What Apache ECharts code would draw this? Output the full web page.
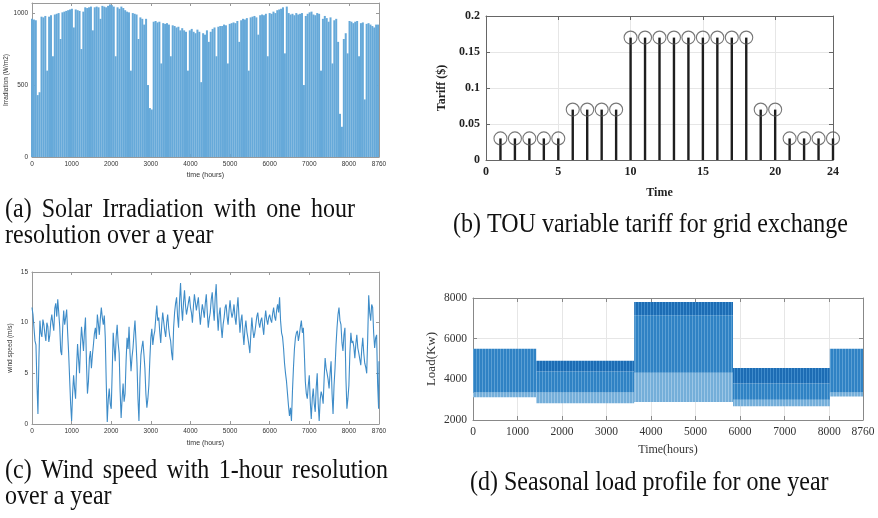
<!DOCTYPE html>
<html>
<head>
<meta charset="utf-8">
<script src="https://cdn.jsdelivr.net/npm/echarts@6.0.0/dist/echarts.min.js"></script>
<style>
html,body{margin:0;padding:0;background:#fff;}
#chart{width:878px;height:518px;}
</style>
</head>
<body>
<div id="chart"></div>
<script>
// ---------- DATA ----------
// (a) Solar irradiation, one value per 48 h (W/m2)
const solarStep = 48;
const solarValues = [
  960, 955, 950, 430, 450, 975, 970, 980, 600, 975,
  985, 700, 990, 995, 1000, 820, 1005, 1010, 1015, 1020,
  1025, 1030, 900, 1025, 1020, 1015, 750, 1010, 1040, 1035,
  1040, 1045, 880, 1040, 1045, 1040, 960, 1050, 1045, 1040,
  1050, 1060, 1055, 1045, 700, 1040, 1030, 1045, 1035, 1020,
  1010, 1005, 600, 1000, 995, 990, 820, 970, 960, 920,
  960, 500, 340, 330, 940, 945, 935, 940, 650, 930,
  925, 930, 920, 700, 915, 910, 900, 905, 880, 895,
  880, 870, 600, 880, 890, 870, 860, 885, 870, 520,
  860, 850, 880, 800, 870, 890, 900, 700, 905, 910,
  910, 920, 915, 650, 925, 930, 935, 930, 945, 800,
  950, 960, 955, 965, 600, 970, 975, 980, 970, 850,
  985, 990, 985, 995, 700, 1000, 995, 1010, 1000, 1020,
  1025, 1030, 1040, 720, 1045, 1000, 990, 995, 985, 1000,
  990, 995, 1000, 500, 980, 995, 1005, 1010, 990, 985,
  1000, 995, 600, 960, 980, 965, 940, 970, 650, 950,
  960, 800, 300, 210, 820, 860, 720, 945, 940, 930,
  940, 945, 700, 930, 935, 400, 925, 930, 920, 910,
  900, 920, 920
];

// (b) TOU tariff per hour ($)
const tariffHours = [1,2,3,4,5,6,7,8,9,10,11,12,13,14,15,16,17,18,19,20,21,22,23,24];
const tariffValues = [0.03,0.03,0.03,0.03,0.03,0.07,0.07,0.07,0.07,0.17,0.17,0.17,0.17,0.17,0.17,0.17,0.17,0.17,0.07,0.07,0.03,0.03,0.03,0.03];

// (c) Wind speed, one value per 25 h (m/s), plus the last hour
const windStep = 25;
const windValues = [
  11.5,10.8,9.5,8.2,7.8,4.0,1.0,6.5,10.2,9.0,8.6,10.3,9.8,8.9,8.2,10.0,9.6,8.1,8.8,10.1,
  10.8,9.9,9.2,11.4,11.9,10.6,12.3,11.0,9.6,7.2,6.8,9.5,11.2,9.8,10.5,11.3,9.0,7.0,4.5,2.0,
  0.3,3.0,4.8,3.5,2.5,5.5,7.9,6.4,5.0,7.8,9.6,8.4,7.2,9.2,10.5,6.0,3.0,4.2,6.5,7.2,
  5.5,6.8,7.8,8.9,9.5,8.4,10.8,9.9,8.8,10.4,11.5,10.5,9.8,10.7,8.5,4.0,0.2,2.4,3.5,2.0,
  1.5,5.2,9.0,7.5,6.2,8.6,9.8,8.0,7.0,3.2,0.6,2.5,4.0,2.2,3.0,6.2,8.5,7.4,9.6,7.0,
  5.2,6.6,7.5,9.0,10.2,8.2,6.0,2.5,0.3,4.5,6.8,7.6,8.2,6.9,5.5,3.0,1.6,2.5,3.8,6.4,
  8.5,9.4,7.8,8.7,9.2,10.5,11.7,10.2,10.5,9.1,8.0,9.8,11.0,10.1,9.2,8.6,10.0,10.8,9.5,8.7,
  8.2,7.0,6.3,9.5,11.0,11.9,12.5,10.6,9.5,12.2,13.9,11.5,10.2,12.0,13.2,11.7,10.8,11.4,12.0,12.6,
  11.5,11.0,10.0,11.6,12.8,12.0,11.2,11.9,12.5,11.0,9.8,10.9,11.8,11.2,10.5,11.9,12.8,11.0,9.5,10.4,
  11.0,12.3,13.0,11.4,10.2,12.5,13.8,11.0,9.2,10.8,11.5,9.6,8.5,9.8,10.5,11.5,11.8,10.6,9.8,11.2,
  12.2,11.1,10.5,11.0,11.8,10.5,9.8,11.4,12.5,10.6,9.0,10.2,10.8,9.0,7.8,9.4,10.2,9.1,8.5,7.8,
  7.0,8.9,10.5,9.3,8.5,9.0,9.8,10.6,11.0,10.0,9.5,10.2,10.5,9.6,8.8,10.3,11.2,10.3,9.8,10.5,
  10.8,10.3,10.0,10.9,11.5,10.6,10.2,11.2,11.8,11.0,12.5,10.2,9.0,8.6,7.5,6.0,5.0,4.2,3.0,1.8,
  0.8,1.6,0.3,3.2,5.5,7.4,8.5,9.0,9.2,8.2,8.8,9.6,10.2,9.0,9.5,7.0,4.2,3.0,2.5,3.8,
  4.8,2.2,0.5,2.5,3.5,2.0,1.2,3.6,5.0,2.0,0.3,2.4,3.2,2.8,2.0,4.5,6.5,5.5,5.0,4.4,
  3.5,5.0,6.2,3.0,1.0,3.8,5.5,7.8,9.5,10.8,11.5,10.2,9.8,8.0,7.2,8.8,9.5,4.5,1.5,2.5,
  3.8,7.0,9.0,8.0,8.2,7.6,6.5,7.9,8.8,7.5,7.0,6.4,5.8,7.4,8.5,7.0,6.0,5.6,5.0,8.5,
  12.7,11.0,10.2,11.8,11.5,9.0,7.5,8.5,8.8,4.0,1.5
];
const windLastHour = 8760;
const windLastValue = 6.2;

// (d) Seasonal load blocks (kW)
const loadStart = [0, 1420, 3620, 5840, 8015];
const loadEnd   = [1420, 3620, 5840, 8015, 8760];
const loadMin   = [3120, 2820, 2880, 2680, 3150];
const loadLight = [3350, 3350, 4320, 3000, 3350];
const loadDark  = [5500, 4380, 7150, 3800, 5500];
const loadMax   = [5500, 4920, 7800, 4560, 5500];

// tick labels
const hourTicks = [0,1000,2000,3000,4000,5000,6000,7000,8000,8760];
const solarTicks = [0,500,1000];
const tariffXTicks = [0,5,10,15,20,24];
const tariffYTicks = [0,0.05,0.1,0.15,0.2];
const windTicks = [0,5,10,15];
const loadTicks = [2000,4000,6000,8000];

// captions
const captionA1 = '(a) Solar Irradiation with one hour';
const captionA2 = 'resolution over a year';
const captionB  = '(b) TOU variable tariff for grid exchange';
const captionC1 = '(c) Wind speed with 1-hour resolution';
const captionC2 = 'over a year';
const captionD  = '(d) Seasonal load profile for one year';

// ---------- CHART ----------
const chart = echarts.init(document.getElementById('chart'), null, {renderer:'canvas'});

function makePattern(base, stripe) {
  const c = document.createElement('canvas');
  c.width = 3; c.height = 2;
  const ctx = c.getContext('2d');
  ctx.fillStyle = base; ctx.fillRect(0,0,3,2);
  ctx.fillStyle = stripe; ctx.fillRect(2,0,1,2);
  return {image: c, repeat: 'repeat'};
}
const patDark = makePattern('#1c6cb4', '#3f8bcb');
const patMed  = makePattern('#2f82c4', '#5a9fd4');
const patLight= makePattern('#74aed9', '#9cc6e6');

const sans = 'Liberation Sans';
const serif = 'Liberation Serif';
const plain = v => String(v);

function pairAxes(cfg) {
  const main = {
    type:'value', min: cfg.min, max: cfg.max, gridIndex: cfg.grid,
    position: cfg.pos,
    axisLine:{show:true, onZero:false, lineStyle:{color:cfg.lineColor, width:1}},
    axisTick:{show:true, inside:true, length:cfg.tickLen, customValues: cfg.ticks, lineStyle:{color:cfg.lineColor}},
    axisLabel:{show:true, customValues: cfg.ticks, formatter: plain, fontFamily: cfg.font, fontSize: cfg.fontSize,
      fontWeight: cfg.bold ? 'bold' : 'normal', color: cfg.labelColor, margin: cfg.margin,
      showMinLabel:true, showMaxLabel:true},
    splitLine:{show: cfg.split, lineStyle:{color:'#e6e6e6', width:1}},
    name: cfg.name, nameLocation:'middle', nameGap: cfg.nameGap,
    nameTextStyle:{fontFamily: cfg.font, fontSize: cfg.nameSize, fontWeight: cfg.bold ? 'bold':'normal', color: cfg.labelColor}
  };
  if (cfg.split) main.splitLine.customValues = cfg.ticks;
  const mirror = {
    type:'value', min: cfg.min, max: cfg.max, gridIndex: cfg.grid,
    position: cfg.mirrorPos,
    axisLine:{show:true, onZero:false, lineStyle:{color:cfg.lineColor, width:1}},
    axisTick:{show:true, inside:true, length:cfg.tickLen, customValues: cfg.ticks, lineStyle:{color:cfg.lineColor}},
    axisLabel:{show:false}, splitLine:{show:false}
  };
  return [main, mirror];
}

const gridA = {left:32, top:3, width:347, height:154};
const gridB = {left:486, top:16, width:347, height:144};
const gridC = {left:32, top:272, width:347, height:152};
const gridD = {left:473, top:298, width:390, height:122};

const xAxes = [].concat(
  pairAxes({grid:0, min:0, max:8760, pos:'bottom', mirrorPos:'top', ticks:hourTicks, lineColor:'#9a9a9a', tickLen:3,
    font:sans, fontSize:6.5, labelColor:'#333', margin:4, split:false, name:'time (hours)', nameGap:15, nameSize:7}),
  pairAxes({grid:1, min:0, max:24, pos:'bottom', mirrorPos:'top', ticks:tariffXTicks, lineColor:'#666', tickLen:4,
    font:serif, fontSize:12, bold:true, labelColor:'#222', margin:6, split:true, name:'Time', nameGap:27, nameSize:12}),
  pairAxes({grid:2, min:0, max:8760, pos:'bottom', mirrorPos:'top', ticks:hourTicks, lineColor:'#9a9a9a', tickLen:3,
    font:sans, fontSize:6.5, labelColor:'#333', margin:4, split:false, name:'time (hours)', nameGap:16, nameSize:7}),
  pairAxes({grid:3, min:0, max:8760, pos:'bottom', mirrorPos:'top', ticks:hourTicks, lineColor:'#888', tickLen:4,
    font:serif, fontSize:11.5, labelColor:'#333', margin:6, split:true, name:'Time(hours)', nameGap:24, nameSize:12})
);
const yAxes = [].concat(
  pairAxes({grid:0, min:0, max:1070, pos:'left', mirrorPos:'right', ticks:solarTicks, lineColor:'#9a9a9a', tickLen:3,
    font:sans, fontSize:6.5, labelColor:'#333', margin:4, split:false, name:'Irradiation (W/m2)', nameGap:22, nameSize:6.5}),
  pairAxes({grid:1, min:0, max:0.2, pos:'left', mirrorPos:'right', ticks:tariffYTicks, lineColor:'#666', tickLen:4,
    font:serif, fontSize:12, bold:true, labelColor:'#222', margin:6, split:true, name:'Tariff ($)', nameGap:38, nameSize:12}),
  pairAxes({grid:2, min:0, max:15, pos:'left', mirrorPos:'right', ticks:windTicks, lineColor:'#9a9a9a', tickLen:3,
    font:sans, fontSize:6.5, labelColor:'#333', margin:4, split:false, name:'wind speed (m/s)', nameGap:18, nameSize:6.5}),
  pairAxes({grid:3, min:2000, max:8000, pos:'left', mirrorPos:'right', ticks:loadTicks, lineColor:'#888', tickLen:4,
    font:serif, fontSize:11.5, labelColor:'#333', margin:6, split:true, name:'Load(Kw)', nameGap:35, nameSize:13})
);

const solarData = solarValues.map((v, i) => [i * solarStep, v]);
const tariffData = tariffHours.map((h, i) => [h, tariffValues[i]]);
const windData = windValues.map((v, i) => [i * windStep, v]);
windData.push([windLastHour, windLastValue]);
const loadData = loadStart.map((s, i) => [s, loadEnd[i], loadMin[i], loadLight[i], loadDark[i], loadMax[i]]);

function rectBetween(api, x0, x1, y0, y1, fill) {
  const p0 = api.coord([x0, y1]);
  const p1 = api.coord([x1, y0]);
  return {type:'rect', shape:{x:p0[0], y:p0[1], width:p1[0]-p0[0], height:p1[1]-p0[1]}, style:{fill: fill}};
}

// caption helpers
const capFont = '24px "Liberation Serif"';
const measureCtx = document.createElement('canvas').getContext('2d');
measureCtx.font = capFont;
function captionText(text, x, y) {
  return {type:'text', x:x, y:y, scaleY:1.1, style:{text:text, font:capFont, fill:'#111', verticalAlign:'middle'}};
}
function justifiedLine(text, x0, x1, y) {
  const words = text.split(' ');
  const widths = words.map(w => measureCtx.measureText(w).width);
  const total = widths.reduce((a, b) => a + b, 0);
  const gap = (x1 - x0 - total) / (words.length - 1);
  const out = [];
  let x = x0;
  words.forEach((w, i) => { out.push(captionText(w, x, y)); x += widths[i] + gap; });
  return out;
}

const option = {
  animation:false,
  backgroundColor:'#fff',
  grid:[gridA, gridB, gridC, gridD],
  xAxis: xAxes,
  yAxis: yAxes,
  series:[
    {type:'bar', xAxisIndex:0, yAxisIndex:0, data: solarData, barWidth:2,
     itemStyle:{color:'#66a9d9'}, silent:true},
    {type:'bar', xAxisIndex:2, yAxisIndex:2, data: tariffData, barWidth:2.4,
     itemStyle:{color:'#1e1e1e'}, silent:true},
    {type:'scatter', xAxisIndex:2, yAxisIndex:2, data: tariffData, symbol:'circle', symbolSize:13,
     itemStyle:{color:'rgba(255,255,255,0)', borderColor:'#555', borderWidth:1.1}, silent:true, z:5},
    {type:'line', xAxisIndex:4, yAxisIndex:4, data: windData, showSymbol:false,
     lineStyle:{color:'#3e8cc8', width:1.1}, silent:true},
    {type:'custom', xAxisIndex:6, yAxisIndex:6, data: loadData, silent:true,
     renderItem: function(params, api){
       const s = api.value(0), e = api.value(1);
       const mn = api.value(2), lt = api.value(3), dk = api.value(4), mx = api.value(5);
       const children = [
         rectBetween(api, s, e, mn, lt, patLight),
         rectBetween(api, s, e, lt, dk, patMed)
       ];
       if (mx > dk) children.push(rectBetween(api, s, e, dk, mx, patDark));
       return {type:'group', children: children};
     }}
  ],
  graphic: [].concat(
    justifiedLine(captionA1, 5, 355, 210),
    [captionText(captionA2, 5, 236)],
    [captionText(captionB, 453, 225)],
    justifiedLine(captionC1, 5, 388, 471),
    [captionText(captionC2, 5, 497)],
    [captionText(captionD, 470, 483)]
  )
};
chart.setOption(option);
</script>
</body>
</html>
